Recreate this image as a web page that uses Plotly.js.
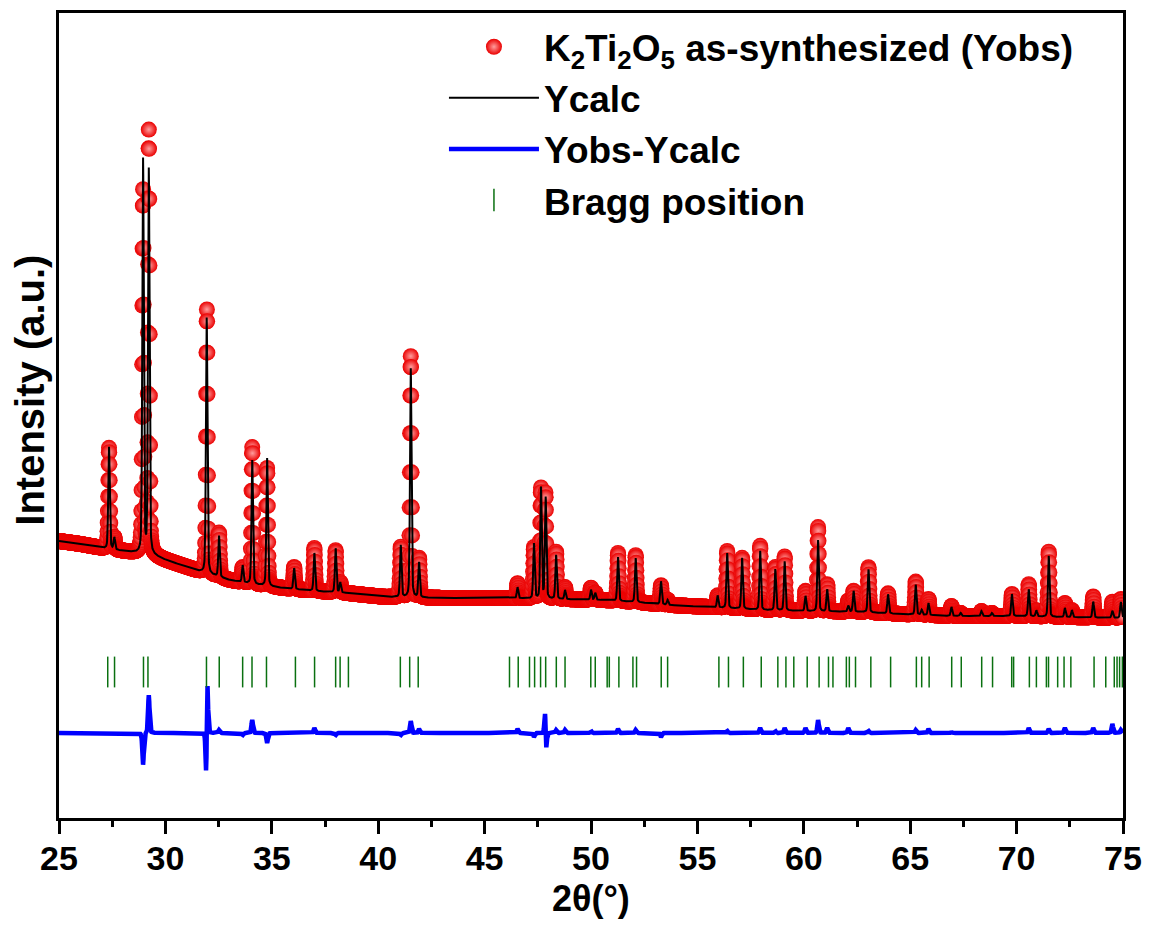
<!DOCTYPE html>
<html>
<head>
<meta charset="utf-8">
<script src="https://cdn.plot.ly/plotly-3.0.1.min.js"></script>
<style>html,body{margin:0;padding:0;background:#fff;}#chart{width:1151px;height:926px;}</style>
</head>
<body>
<div id="chart"></div>
<script>
// ---- Data ----
// background knots (2theta, intensity a.u.)
const bgX = [25,26,27,28,28.6,29.5,30,31,31.7,33,34,35.5,37,38.5,40.3,43,45.9,48,50.5,52,53.7,55.5,58,60,62.8,64.5,67,70,72,75];
const bgY = [277,274,270,267,265,262,258,251,246,238,234,230,227,225,221,220,220,219,218,216,213,211,208,207,206,204,202,202,201,200];

// calculated peaks (position, height above background)
const calcPos = [27.35,27.6,28.95,29.22,31.94,32.52,33.63,34.08,34.78,36.05,37.0,38.0,38.22,41.06,41.53,41.92,46.55,47.32,47.65,47.87,48.36,48.78,50.0,50.2,51.27,52.1,53.29,53.6,55.95,56.4,57.1,57.95,58.66,59.1,60.08,60.67,61.1,62.09,62.34,63.04,63.96,65.26,65.54,65.86,66.94,67.37,68.35,68.84,69.78,70.57,70.93,71.51,72.27,72.6,73.6,74.5,74.9];
const calcH   = [102,12,394,385,256,41,17,124,128,21,38,44,10,52,229,35,11,55,111,101,44,9,10,7,44,44,23,5,12,55,51,59,41,49,15,71,22,6,21,43,19,30,5,12,9,3,5,3,22,27,6,61,9,7,16,7,16];

// observed peaks (position, height above background)
const obsPos = [27.35,27.6,28.95,29.22,31.95,32.52,33.63,34.08,34.78,36.05,37.0,38.0,38.22,41.06,41.53,41.92,46.55,47.32,47.65,47.86,48.36,48.78,50.0,50.2,51.27,52.1,53.29,53.6,55.95,56.4,57.1,57.95,58.66,59.1,60.08,60.67,61.1,62.09,62.34,63.04,63.96,65.26,65.54,65.86,66.94,67.37,68.35,68.84,69.78,70.57,70.93,71.51,72.27,72.6,73.6,74.5,74.9];
const obsH   = [101,12,362,423,264,44,15,137,118,22,43,42,10,50,241,39,15,51,110,105,47,12,12,7,48,47,19,5,12,57,51,64,43,54,20,84,27,11,21,45,20,33,5,16,10,3,5,3,22,32,6,65,14,7,21,16,19];

// Bragg reflection positions
const braggPos = [27.29,27.61,28.97,29.18,31.93,32.53,33.63,34.07,34.75,36.11,37.01,38.0,38.21,38.6,41.04,41.48,41.88,46.17,46.58,47.11,47.35,47.63,47.87,48.37,48.78,49.99,50.2,50.76,50.86,51.31,51.97,52.14,53.3,53.6,56.01,56.46,57.16,58.0,58.78,59.16,59.53,60.16,60.72,61.16,61.37,62.0,62.14,62.43,63.15,64.08,65.29,65.54,65.89,66.95,67.4,68.36,68.87,69.77,69.86,70.6,70.93,71.4,71.5,71.93,72.23,72.55,73.64,74.19,74.59,74.72,74.84,74.97];
const braggLevel = 146;
const diffOffset = 85;

const xStart = 25, xEnd = 75, xStep = 0.01;
const sigma = 0.035, hwhm = 0.041, eta = 0.3;

// ---- Profile construction ----
function bgAt(x){
  for (let i=0;i<bgX.length-1;i++){
    if (x<=bgX[i+1]){
      const t=(x-bgX[i])/(bgX[i+1]-bgX[i]);
      return bgY[i]+t*(bgY[i+1]-bgY[i]);
    }
  }
  return bgY[bgY.length-1];
}
function profile(x,pos,h){
  let s=0;
  for (let k=0;k<pos.length;k++){
    const d=x-pos[k];
    if (Math.abs(d)>2) continue;
    const g=Math.exp(-d*d/(2*sigma*sigma));
    const l=1/(1+(d/hwhm)*(d/hwhm));
    s+=h[k]*((1-eta)*g+eta*l);
  }
  return s;
}
const xs=[], yObs=[], yCalc=[], yDiff=[];
const n=Math.round((xEnd-xStart)/xStep);
for (let i=0;i<=n;i++){
  const x=+(xStart+i*xStep).toFixed(3);
  const b=bgAt(x);
  const o=b+profile(x,obsPos,obsH);
  const c=b+profile(x,calcPos,calcH);
  xs.push(x); yObs.push(o); yCalc.push(c); yDiff.push(o-c+diffOffset);
}

const fontFam = 'Liberation Sans, Arial, Helvetica, sans-serif';

const traces = [
  {x:xs, y:yObs, mode:'markers', type:'scatter',
   name:'K<sub>2</sub>Ti<sub>2</sub>O<sub>5</sub> as-synthesized (Yobs)',
   marker:{color:'#ea0000', size:16, line:{width:0}, gradient:{type:'radial', color:'#ff9d9d'}}},
  {x:xs, y:yCalc, mode:'lines', type:'scatter', name:'Ycalc',
   line:{color:'#000000', width:2}},
  {x:xs, y:yDiff, mode:'lines', type:'scatter', name:'Yobs-Ycalc',
   line:{color:'#0000ff', width:4.5}},
  {x:braggPos, y:braggPos.map(()=>braggLevel), mode:'markers', type:'scatter', name:'Bragg position',
   marker:{symbol:'line-ns', size:22, color:'#0a7010', line:{color:'#0a7010', width:1.5}}}
];

const layout = {
  width:1151, height:926,
  margin:{l:59, r:28, t:13, b:108},
  paper_bgcolor:'#ffffff', plot_bgcolor:'#ffffff',
  showlegend:true,
  legend:{x:0.3618, y:0.996, xanchor:'left', yanchor:'top', bgcolor:'rgba(0,0,0,0)',
          itemwidth:90, font:{family:fontFam, size:37, color:'#000', weight:'bold'},
          tracegroupgap:0},
  xaxis:{range:[25,75], dtick:5, tick0:25, ticks:'outside', ticklen:13, tickwidth:3, tickcolor:'#000',
         showline:true, linewidth:3, linecolor:'#000', mirror:true, showgrid:false, zeroline:false,
         ticklabelstandoff:-5,
         minor:{dtick:2.5, ticks:'outside', ticklen:6, tickwidth:3, tickcolor:'#000', showgrid:false},
         tickfont:{family:fontFam, size:34, color:'#000', weight:'bold'}},
  yaxis:{range:[0,805], showticklabels:false, ticks:'', showline:true, linewidth:3, linecolor:'#000',
         mirror:true, showgrid:false, zeroline:false},
  annotations:[
    {text:'2θ(°)', xref:'paper', yref:'paper', x:0.5, y:-0.1, xanchor:'center', yanchor:'middle',
     showarrow:false, font:{family:fontFam, size:36, color:'#000', weight:'bold'}},
    {text:'Intensity (a.u.)', xref:'paper', yref:'paper', x:-0.0273, y:0.532, xanchor:'center', yanchor:'middle',
     textangle:-90, showarrow:false, font:{family:fontFam, size:40, color:'#000', weight:'bold'}}
  ]
};

Plotly.newPlot('chart', traces, layout, {displayModeBar:false, staticPlot:true});
</script>
</body>
</html>
